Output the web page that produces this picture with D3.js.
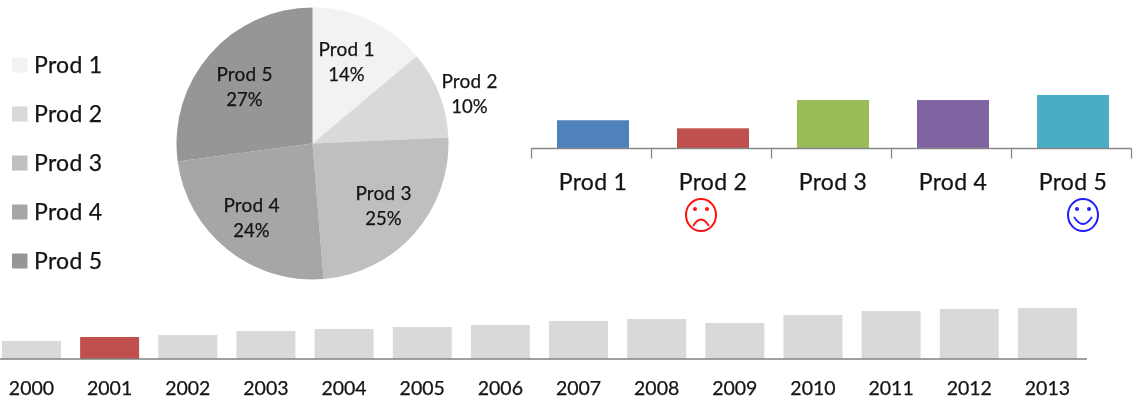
<!DOCTYPE html>
<html><head><meta charset="utf-8">
<script src="https://cdn.jsdelivr.net/npm/d3@7"></script>
<style>
html,body{margin:0;padding:0;background:#fff}
svg{display:block;filter:blur(0.45px)}
text{font-family:Lato,"Open Sans",sans-serif;fill:#141414;stroke:#141414;stroke-width:0.25px}
</style></head><body><svg id="c" width="1141" height="406"></svg>
<script>
const products = ["Prod 1","Prod 2","Prod 3","Prod 4","Prod 5"];
const pieValues = [13.9,10.4,24.4,24.2,27.1];
const pieLabels = ["14%","10%","25%","24%","27%"];
const barValues = [28,20,48,48,53];
const years = ["2000","2001","2002","2003","2004","2005","2006","2007","2008","2009","2010","2011","2012","2013"];
const yearValues = [18,22,24,28,30,32,34,38,40,36,44,48,50,51];
const highlightYear = "2001";
const greys = ["#f2f2f2","#d9d9d9","#bfbfbf","#a6a6a6","#969696"];
const barColors = ["#4f81bd","#c0504d","#9bbb59","#8064a2","#4bacc6"];

const svg = d3.select("#c");

// legend
const ly = d3.scalePoint().domain(products).range([65,261]);
const lg = svg.append("g");
lg.selectAll("rect").data(products).join("rect")
  .attr("x",12).attr("y",d=>ly(d)-7.5).attr("width",15.5).attr("height",15)
  .attr("fill",(d,i)=>greys[i]);
lg.selectAll("text").data(products).join("text")
  .attr("x",34).attr("y",d=>ly(d)+8).attr("font-size",23).attr("letter-spacing",0.3).text(d=>d);

// pie
const labelOffsets = [[34,-83],[157,-51],[71,61],[-61,73],[-68,-58]];
const pg = svg.append("g").attr("transform","translate(312.5,143.5)");
const arcs = d3.pie().sort(null)(pieValues);
const arc = d3.arc().innerRadius(0).outerRadius(136);
pg.selectAll("path").data(arcs).join("path").attr("d",arc).attr("fill",(d,i)=>greys[i]);
const pl = pg.selectAll("g").data(arcs).join("g")
  .attr("transform",(d,i)=>`translate(${labelOffsets[i]})`);
pl.append("text").attr("text-anchor","middle").attr("y",-5).attr("font-size",19).attr("letter-spacing",0.2).text((d,i)=>products[i]);
pl.append("text").attr("text-anchor","middle").attr("y",20).attr("font-size",18.5).text((d,i)=>pieLabels[i]);

// product bars
const x = d3.scaleBand().domain(products).range([532,1132]).paddingInner(0.4).paddingOuter(0.2);
const baseY = 148.5;
const y = d3.scaleLinear().domain([0,53]).range([baseY,95]);
const bg = svg.append("g");
bg.selectAll("rect").data(barValues).join("rect")
  .attr("x",(d,i)=>x(products[i])+1).attr("width",x.bandwidth())
  .attr("y",d=>y(d)).attr("height",d=>baseY-y(d))
  .attr("fill",(d,i)=>barColors[i]);
const stepX = x.step();
const tickXs = d3.range(products.length+1).map(i=>x.range()[0]+i*stepX-0.5);
bg.append("line").attr("x1",tickXs[0]).attr("x2",tickXs[5]).attr("y1",baseY).attr("y2",baseY).attr("stroke","#868686").attr("stroke-width",1.5);
bg.selectAll("line.t").data(tickXs).join("line").attr("class","t")
  .attr("x1",d=>d).attr("x2",d=>d).attr("y1",baseY).attr("y2",baseY+10).attr("stroke","#868686").attr("stroke-width",1.3);
bg.selectAll("text").data(products).join("text")
  .attr("x",d=>x(d)+x.bandwidth()/2+1).attr("y",190).attr("text-anchor","middle").attr("font-size",23).attr("letter-spacing",0.3).text(d=>d);

// faces
function face(px,py,color,happy){
  const g = svg.append("g").attr("transform",`translate(${px},${py})`).attr("fill","none").attr("stroke",color);
  g.append("ellipse").attr("rx",15).attr("ry",16).attr("stroke-width",2);
  [-6,6].forEach(dx=>g.append("circle").attr("cx",dx).attr("cy",-6).attr("r",2).attr("fill",color).attr("stroke","none"));
  const m = d3.path();
  if(happy){m.moveTo(-9,2);m.quadraticCurveTo(0,16,9,2);}
  else{m.moveTo(-8,11);m.quadraticCurveTo(0,-2,8,11);}
  g.append("path").attr("d",m.toString()).attr("stroke-width",1.8);
}
face(x("Prod 2")+x.bandwidth()/2-11,215,"#ff1010",false);
face(x("Prod 5")+x.bandwidth()/2+11,215,"#2020ff",true);

// year bars
const xy = d3.scaleBand().domain(years).range([-7.6,1086.5]).paddingInner(0.245).paddingOuter(0.1225);
const yBase = 359;
const yy = d3.scaleLinear().domain([0,51]).range([yBase,308]);
const yg = svg.append("g");
yg.selectAll("rect").data(years).join("rect")
  .attr("x",d=>xy(d)).attr("width",xy.bandwidth())
  .attr("y",(d,i)=>yy(yearValues[i])).attr("height",(d,i)=>yBase-yy(yearValues[i]))
  .attr("fill",d=>d===highlightYear?"#c0504d":"#d9d9d9");
yg.append("line").attr("x1",0).attr("x2",1087).attr("y1",yBase).attr("y2",yBase).attr("stroke","#808080").attr("stroke-width",1.5);
yg.selectAll("text").data(years).join("text")
  .attr("x",d=>xy(d)+xy.bandwidth()/2).attr("y",395).attr("text-anchor","middle").attr("font-size",19.5).text(d=>d);
</script></body></html>
